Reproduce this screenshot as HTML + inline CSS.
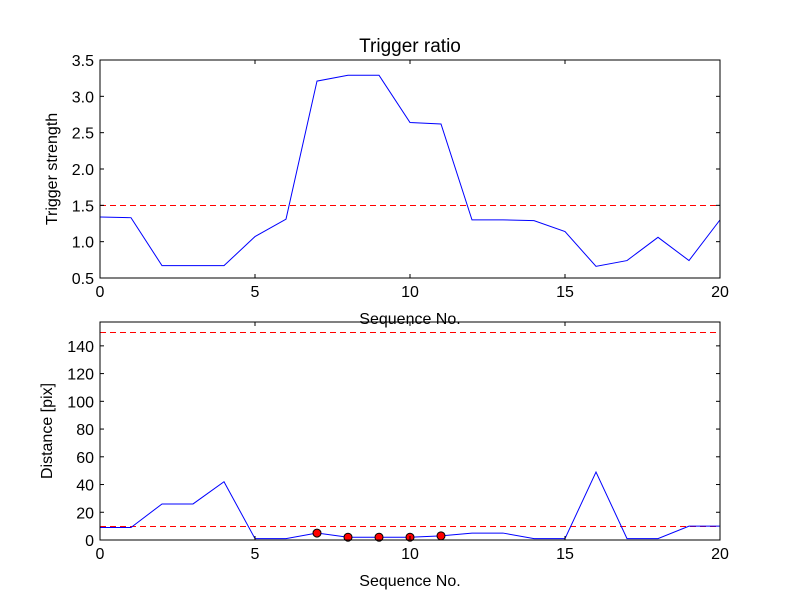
<!DOCTYPE html>
<html><head><meta charset="utf-8"><style>
body{margin:0;background:#fff;}
svg text{font-family:"Liberation Sans","DejaVu Sans",sans-serif;fill:#000;}
</style></head><body>
<svg id="fig" width="800" height="600" xmlns="http://www.w3.org/2000/svg">
<rect width="800" height="600" fill="#fff"/>
</svg>
<script>
const seqX=[0,1,2,3,4,5,6,7,8,9,10,11,12,13,14,15,16,17,18,19,20];
const triggerVals=[1.34,1.33,0.67,0.67,0.67,1.07,1.31,3.21,3.29,3.29,2.64,2.62,1.30,1.30,1.29,1.14,0.66,0.74,1.06,0.74,1.30];
const distVals=[9,9,26,26,42,1,1,5,2,2,2,3,5,5,1,1,49,1,1,10,10];
const markIdx=[7,8,9,10,11];
const topThresh=[1.5];
const botThresh=[150,10];
const xTicks=[0,5,10,15,20];
const topTicks=[0.5,1.0,1.5,2.0,2.5,3.0,3.5];
const botTicks=[0,20,40,60,80,100,120,140];
const NS="http://www.w3.org/2000/svg";
const svg=document.getElementById('fig');
function mk(t,a,p){const e=document.createElementNS(NS,t);for(const k in a)e.setAttribute(k,a[k]);(p||svg).appendChild(e);return e;}
function panel(name,top,bot,ymin,ymax,ticks,fmt,vals,thr,ylabel,title,marks){
  const L=100,R=720;
  const g=mk('g',{});
  
  
  const sx=v=>L+(v-0)/(20-0)*(R-L);
  const sy=v=>bot-(v-ymin)/(ymax-ymin)*(bot-top);
  thr.forEach(t=>{const yy=Math.round(sy(t))+0.5;const l=mk('line',{x1:L,x2:R,y1:yy,y2:yy,stroke:'#f00','stroke-dasharray':'6,4','stroke-width':1},g);
    });
  const pl=mk('polyline',{points:vals.map((v,i)=>sx(seqX[i])+','+sy(v)).join(' '),fill:'none',stroke:'#00f','stroke-width':1},g);
  
  if(marks)marks.forEach(i=>{const c=mk('circle',{cx:sx(seqX[i]),cy:sy(vals[i]),r:4,fill:'#f00',stroke:'#000','stroke-width':1},g);
    });
  const fr=mk('rect',{x:L,y:top,width:R-L,height:bot-top,fill:'none',stroke:'#000','stroke-width':1},g);
  
  xTicks.forEach(t=>{const x=sx(t);
    mk('line',{x1:x,x2:x,y1:bot,y2:bot-4,stroke:'#000'},g);mk('line',{x1:x,x2:x,y1:top,y2:top+4,stroke:'#000'},g);
    const tx=mk('text',{x:x,y:bot+19,'text-anchor':'middle','font-size':16},g);tx.textContent=t;
    });
  ticks.forEach(t=>{const y=sy(t);
    mk('line',{x1:L,x2:L+4,y1:y,y2:y,stroke:'#000'},g);mk('line',{x1:R,x2:R-4,y1:y,y2:y,stroke:'#000'},g);
    const tx=mk('text',{x:L-6,y:y+6,'text-anchor':'end','font-size':16},g);tx.textContent=fmt(t);
    });
  const xl=mk('text',{x:(L+R)/2,y:bot+46,'text-anchor':'middle','font-size':16},g);xl.textContent='Sequence No.';
  
  const cy=(top+bot)/2;
  const yl=mk('text',{x:0,y:0,'text-anchor':'middle','font-size':16,transform:`translate(${name==='top-panel'?57:52},${cy}) rotate(-90)`},g);yl.textContent=ylabel;
  
  if(title){const tt=mk('text',{x:(L+R)/2,y:top-8,'text-anchor':'middle','font-size':19},g);tt.textContent=title;
    }
}
panel('top-panel',60,278,0.5,3.5,topTicks,t=>t.toFixed(1),triggerVals,topThresh,'Trigger strength','Trigger ratio',null);
panel('bottom-panel',322,540,0,157.2,botTicks,t=>String(t),distVals,botThresh,'Distance [pix]',null,markIdx);
</script>
</body></html>
